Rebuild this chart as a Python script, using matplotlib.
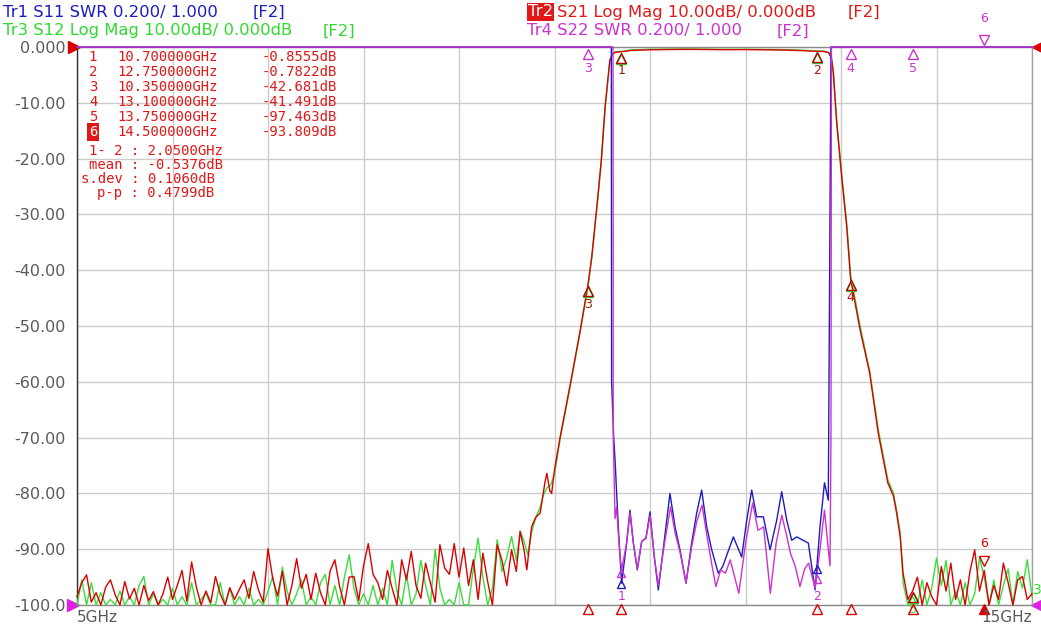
import numpy as np
import matplotlib
matplotlib.use("Agg")
import matplotlib.pyplot as plt
from matplotlib.transforms import offset_copy, blended_transform_factory

W, H = 1041, 625

# ---- S21 (Tr2, red) -------------------------------------------------------
s21_lo_noise = [
    -98.5, -96.0, -94.6, -99.5, -97.8, -100, -96.8, -95.5, -98.2, -100,
    -95.8, -98.9, -97.0, -100, -96.5, -99.2, -97.6, -100, -98.0, -95.0,
    -99.0, -96.5, -93.8, -99.3, -92.3, -96.8, -100, -97.5, -99.6, -94.9,
    -98.0, -100, -96.9, -99.0, -97.2, -95.5, -98.8, -94.0, -97.3, -99.5,
    -89.9, -95.3, -98.4, -94.0, -100, -96.5, -91.7, -97.0, -94.5, -99.0,
    -94.3, -97.8, -100, -93.9, -91.9, -96.7, -100, -95.0, -94.9, -99.2,
    -93.0, -89.0, -94.5, -96.0, -99.0, -93.8, -97.0, -100, -91.9, -95.5,
    -90.4, -96.5, -98.8, -92.5, -96.0, -99.5, -89.2, -93.4, -94.5, -89.0,
    -95.0, -89.8, -96.5, -91.9, -99.0, -90.7, -95.8, -100, -89.2, -92.0,
    -96.5, -90.1, -94.0]
s21_band_f = [
    9.64, 9.68, 9.71, 9.76, 9.80, 9.85, 9.90, 9.92, 9.95, 9.97,
    10.00, 10.06, 10.16, 10.27, 10.35, 10.39, 10.45, 10.49, 10.53, 10.58,
    10.61, 10.63, 10.66, 10.70, 10.80, 10.90, 11.00, 11.20, 11.40, 11.60,
    11.80, 12.00, 12.20, 12.40, 12.60, 12.75, 12.82, 12.87, 12.90, 12.92,
    12.955, 13.01, 13.06, 13.10, 13.20, 13.30, 13.39, 13.49, 13.55, 13.58,
    13.62]
s21_band_v = [
    -86.8, -90.0, -93.7, -86.0, -84.4, -83.5, -78.0, -76.4, -79.5, -80.0,
    -75.8, -69.8, -60.9, -50.7, -42.7, -37.6, -27.5, -20.3, -10.7, -2.3,
    -1.3, -1.0, -0.9, -0.86, -0.62, -0.55, -0.50, -0.45, -0.42, -0.45,
    -0.48, -0.47, -0.50, -0.55, -0.65, -0.78, -0.80, -1.0, -2.0, -4.7,
    -13.6, -23.8, -32.2, -41.5, -50.7, -58.4, -69.2, -78.1, -80.5, -83.3,
    -87.8]
s21_hi_noise = [
    -94.3, -99.0, -97.5, -95.0, -100, -96.0, -98.5, -100, -93.1, -97.5,
    -92.5, -99.0, -95.5, -100, -94.0, -90.1, -97.5, -93.8, -100, -96.5,
    -99.0, -92.5, -96.0, -100, -95.5, -94.9, -99.0, -98.0]

# ---- S12 (Tr3, green) -----------------------------------------------------
s12_lo_noise = [
    -100, -95.5, -100, -96.0, -100, -97.8, -100, -99.0, -100, -97.5,
    -100, -98.5, -100, -96.5, -94.9, -100, -98.0, -100, -99.0, -100,
    -97.0, -100, -98.5, -100, -96.0, -100, -99.0, -97.8, -100, -100,
    -96.0, -100, -97.0, -100, -98.5, -100, -97.0, -100, -99.0, -100,
    -97.5, -94.9, -100, -93.2, -97.5, -100, -98.0, -95.5, -100, -98.5,
    -100, -96.0, -94.5, -100, -96.5, -100, -95.0, -91.0, -97.0, -100,
    -98.0, -100, -96.5, -100, -97.0, -100, -92.0, -97.5, -100, -94.5,
    -100, -98.0, -92.0, -96.5, -100, -90.0, -97.0, -100, -99.0, -100,
    -96.0, -100, -100, -93.5, -88.0, -95.0, -100, -97.0, -88.3, -94.0,
    -91.5, -87.7, -92.0]
s12_band_f = [
    9.64, 9.68, 9.72, 9.76, 9.81, 9.85, 9.88, 9.92, 9.96, 10.00,
    10.06, 10.16, 10.27, 10.35, 10.39, 10.45, 10.49, 10.53, 10.58, 10.61,
    10.63, 10.66, 10.70, 10.80, 10.90, 11.00, 11.20, 11.40, 11.60, 11.80,
    12.00, 12.20, 12.40, 12.60, 12.75, 12.82, 12.87, 12.90, 12.92, 12.955,
    13.01, 13.06, 13.10, 13.20, 13.30, 13.39, 13.49, 13.55, 13.58, 13.62]
s12_band_v = [
    -86.8, -88.5, -91.0, -87.0, -84.0, -82.5, -80.5, -79.0, -78.5, -76.5,
    -70.2, -61.3, -51.0, -43.0, -37.9, -27.8, -20.6, -10.9, -2.4, -1.2,
    -0.9, -0.8, -0.80, -0.52, -0.48, -0.40, -0.38, -0.36, -0.40, -0.42,
    -0.40, -0.44, -0.48, -0.58, -0.72, -0.76, -0.95, -1.9, -4.5, -13.2,
    -23.2, -31.5, -40.8, -50.0, -58.0, -68.5, -77.5, -80.0, -82.8, -87.0]
s12_hi_noise = [
    -96.0, -100, -98.5, -100, -95.5, -100, -97.0, -91.6, -96.5, -92.0,
    -100, -97.5, -100, -96.0, -100, -98.0, -91.5, -95.0, -100, -95.5,
    -100, -96.5, -93.5, -100, -94.0, -97.0, -91.9, -98.5]

# ---- S11 (Tr1, blue) / S22 (Tr4, magenta), SWR shown on the dB grid --------
s11_f = [5.0, 10.595, 10.598, 10.62, 10.634, 10.668, 10.703, 10.756, 10.79,
         10.825, 10.867, 10.913, 10.958, 11.0, 11.045, 11.087, 11.147, 11.209,
         11.262, 11.314, 11.377, 11.437, 11.489, 11.541, 11.594, 11.646,
         11.715, 11.761, 11.873, 11.96, 12.013, 12.065, 12.117, 12.187,
         12.257, 12.327, 12.379, 12.432, 12.484, 12.537, 12.658, 12.728,
         12.78, 12.827, 12.867, 12.895, 15.0]
s11_v = [0, 0, -60, -70, -74.0, -86.0, -96.1, -88.8, -83.0,
         -88.8, -93.7, -88.6, -88.0, -83.3, -91.4, -97.3, -88.8, -80.0,
         -86.0, -90.1, -96.1, -88.8, -83.5, -79.4, -86.0, -90.1,
         -94.3, -93.1, -87.8, -91.4, -84.8, -79.4, -84.2, -84.2,
         -90.1, -84.8, -79.7, -84.8, -88.4, -87.8, -88.9, -97.3,
         -86.0, -78.1, -81.2, 0, 0]
s22_f = [5.0, 10.613, 10.615, 10.634, 10.65, 10.68, 10.703, 10.756, 10.79,
         10.825, 10.867, 10.913, 10.958, 11.0, 11.045, 11.087, 11.147, 11.215,
         11.262, 11.314, 11.377, 11.437, 11.49, 11.545, 11.60, 11.65, 11.69,
         11.74, 11.79, 11.84, 11.93, 12.00, 12.075, 12.13, 12.19, 12.26,
         12.32, 12.38, 12.43, 12.47, 12.52, 12.57, 12.62, 12.66, 12.73,
         12.78, 12.827, 12.867, 12.885, 12.895, 12.90, 15.0]
s22_v = [0, 0, -70, -84.5, -82.5, -90.0, -93.7, -88.8, -83.5,
         -88.8, -93.5, -88.6, -88.0, -84.0, -91.4, -96.5, -89.5, -82.4,
         -87.0, -90.5, -96.0, -89.5, -85.0, -82.1, -88.0, -93.0, -96.7,
         -93.7, -94.3, -91.9, -97.9, -89.0, -81.7, -86.6, -86.0, -97.9,
         -89.0, -83.9, -87.5, -90.7, -93.0, -96.7, -93.5, -92.5, -97.0,
         -90.0, -83.0, -90.0, -93.0, -70.0, 0, 0]

# ---- markers ---------------------------------------------------------------
mk_num = ["1", "2", "3", "4", "5", "6"]
mk_freq = [10.70, 12.75, 10.35, 13.10, 13.75, 14.50]
mk_val = [-0.8555, -0.7822, -42.681, -41.491, -97.463, -93.809]
mk_freq_txt = ["10.700000GHz", "12.750000GHz", "10.350000GHz",
               "13.100000GHz", "13.750000GHz", "14.500000GHz"]
mk_val_txt = ["-0.8555dB", "-0.7822dB", "-42.681dB",
              "-41.491dB", "-97.463dB", "-93.809dB"]
stats_txt = ["1- 2 : 2.0500GHz", "mean : -0.5376dB",
             "s.dev : 0.1060dB", "p-p : 0.4799dB"]
ytick_vals = list(range(-100, 1, 10))
ytick_txt = ["-100.0", "-90.00", "-80.00", "-70.00", "-60.00", "-50.00",
             "-40.00", "-30.00", "-20.00", "-10.00", "0.000"]

C_BLUE = "#1c1cc0"
C_RED = "#d80000"
C_GREEN = "#3cdc3c"
C_MAG = "#cc33cc"
C_TXT = "#e01818"
C_GREY = "#5a5a5a"

s21_f = np.concatenate([np.linspace(5.0, 9.6, len(s21_lo_noise)), s21_band_f,
                        np.linspace(13.65, 15.0, len(s21_hi_noise))])
s21_v = np.concatenate([s21_lo_noise, s21_band_v, s21_hi_noise])
s12_f = np.concatenate([np.linspace(5.0, 9.6, len(s12_lo_noise)), s12_band_f,
                        np.linspace(13.65, 15.0, len(s12_hi_noise))])
s12_v = np.concatenate([s12_lo_noise, s12_band_v, s12_hi_noise])

fig = plt.figure(figsize=(W / 100, H / 100), dpi=100)
fig.patch.set_facecolor("white")
ax = fig.add_axes([77 / W, 1 - 605 / H, 955 / W, 558 / H])
ax.set_xlim(5, 15)
ax.set_ylim(-100, 0)
ax.set_xticks(np.arange(5, 16, 1))
ax.set_xticklabels([])
ax.set_yticks(ytick_vals)
ax.set_yticklabels(ytick_txt, color=C_GREY, fontsize=11.5)
ax.tick_params(length=0, pad=8)
ax.grid(True, color="#cccccc", lw=1)
ax.set_axisbelow(True)
for side, col in [("left", "#303030"), ("bottom", "#8a8a8a"),
                  ("top", "#8a8a8a"), ("right", "#a0a0a0")]:
    ax.spines[side].set_color(col)
    ax.spines[side].set_linewidth(1)

ax.plot(s12_f, s12_v, color=C_GREEN, lw=1, clip_on=False, zorder=3)
ax.plot(s21_f, s21_v, color=C_RED, lw=1, clip_on=False, zorder=4)
ax.plot(s11_f, s11_v, color=C_BLUE, lw=1, clip_on=False, zorder=5)
ax.plot(s22_f, s22_v, color=C_MAG, lw=1, clip_on=False, zorder=6)


def off(dy):
    return offset_copy(ax.transData, fig=fig, x=0, y=dy, units="dots")


# trace markers on S21 / S12
for n, f, v in zip(mk_num, mk_freq, mk_val):
    if n == "6":
        ax.plot(f, v, marker="v", ms=7, mfc="none", mec=C_RED, mew=1,
                transform=off(9), clip_on=False, zorder=7)
        ax.text(f, v, n, color=C_RED, fontsize=9, ha="center", va="center",
                transform=off(27), zorder=7)
    else:
        ax.plot(f, v, marker="^", ms=7, mfc="none", mec=C_GREEN, mew=1,
                transform=off(-7), clip_on=False, zorder=7)
        ax.plot(f, v, marker="^", ms=7, mfc="none", mec="#b00000", mew=1,
                transform=off(-6), clip_on=False, zorder=7)
        lab_col = "#8a2000" if n in ("1", "3") else "#c01010"
        if n == "5":
            lab_col = C_GREEN
        ax.text(f, v, n, color=lab_col, fontsize=9, ha="center", va="center",
                transform=off(-19), zorder=7, clip_on=False)

# Tr4 markers clipped at the top line
for n in ["3", "4", "5"]:
    f = mk_freq[mk_num.index(n)]
    ax.plot(f, 0, marker="^", ms=7, mfc="none", mec=C_MAG, mew=1,
            transform=off(-7), clip_on=False, zorder=7)
    ax.text(f, 0, n, color=C_MAG, fontsize=9, ha="center", va="center",
            transform=off(-21), zorder=7)
ax.plot(14.5, 0, marker="v", ms=7, mfc="none", mec=C_MAG, mew=1,
        transform=off(7), clip_on=False, zorder=7)
ax.text(14.5, 0, "6", color=C_MAG, fontsize=9, ha="center", va="center",
        transform=off(28), zorder=7)

# Tr1 / Tr4 markers 1, 2 in the passband
for n in ["1", "2"]:
    f = mk_freq[mk_num.index(n)]
    vb = np.interp(f, s11_f, s11_v)
    vm = np.interp(f, s22_f, s22_v)
    ax.plot(f, vb, marker="^", ms=6, mfc="none", mec=C_BLUE, mew=1,
            transform=off(-6), clip_on=False, zorder=7)
    ax.plot(f, vm, marker="^", ms=6, mfc="none", mec=C_MAG, mew=1,
            transform=off(-6), clip_on=False, zorder=7)
    ax.text(f, -98.5, n, color=C_MAG, fontsize=9, ha="center", va="center",
            zorder=7)

# stimulus markers under the x axis
bt = blended_transform_factory(ax.transData, ax.transAxes)
for n, f in zip(mk_num, mk_freq):
    tr = offset_copy(bt, fig=fig, x=0, y=-4, units="dots")
    filled = n == "6"
    ax.plot(f, 0, marker="^", ms=7, mfc=C_RED if filled else "none",
            mec=C_RED, mew=1, transform=tr, clip_on=False, zorder=7)

# reference-position arrows at the frame edges
ax.plot(0, 1, marker=">", ms=8, color=C_RED, transform=offset_copy(
    ax.transAxes, fig=fig, x=-3, y=0, units="dots"), clip_on=False)
ax.plot(0, 0, marker=">", ms=8, color="#e020e0", transform=offset_copy(
    ax.transAxes, fig=fig, x=-4, y=0, units="dots"), clip_on=False)
ax.plot(1, 0, marker="<", ms=8, color="#e020e0", transform=offset_copy(
    ax.transAxes, fig=fig, x=5, y=0, units="dots"), clip_on=False)
ax.plot(1, 1, marker="<", ms=7, color=C_RED, transform=offset_copy(
    ax.transAxes, fig=fig, x=5, y=0, units="dots"), clip_on=False)


def px(x, y):
    return x / W, 1 - y / H


# header
fs_h = 11.8
fig.text(*px(3, 12), "Tr1 S11 SWR 0.200/ 1.000", color=C_BLUE, fontsize=fs_h,
         va="center")
fig.text(*px(253, 12), "[F2]", color=C_BLUE, fontsize=fs_h, va="center")
fig.text(*px(3, 31), "Tr3 S12 Log Mag 10.00dB/ 0.000dB", color="#30d830",
         fontsize=fs_h, va="center")
fig.text(*px(323, 31), "[F2]", color="#30d830", fontsize=fs_h, va="center")
fig.text(*px(528, 12), "Tr2", color="white", fontsize=fs_h, va="center",
         bbox=dict(facecolor=C_TXT, edgecolor="none", pad=1))
fig.text(*px(557, 12), "S21 Log Mag 10.00dB/ 0.000dB", color=C_TXT,
         fontsize=fs_h, va="center")
fig.text(*px(848, 12), "[F2]", color=C_TXT, fontsize=fs_h, va="center")
fig.text(*px(527, 31), "Tr4 S22 SWR 0.200/ 1.000", color=C_MAG,
         fontsize=fs_h, va="center")
fig.text(*px(777, 31), "[F2]", color=C_MAG, fontsize=fs_h, va="center")

# x labels
fig.text(*px(77, 618), "5GHz", color=C_GREY, fontsize=11, va="center",
         ha="left")
fig.text(*px(1032, 618), "15GHz", color=C_GREY, fontsize=11, va="center",
         ha="right")
fig.text(*px(1037, 590), "3", color="#30d830", fontsize=10, va="center",
         ha="center")

# marker table (fixed-pitch readout)
fs_t = 10
mono = "DejaVu Sans Mono"
for i, (n, ft, vt) in enumerate(zip(mk_num, mk_freq_txt, mk_val_txt)):
    y = 57 + 15 * i
    if n == "6":
        fig.text(*px(93, y), n, color="white", fontsize=fs_t, ha="center",
                 va="center", family=mono,
                 bbox=dict(facecolor=C_TXT, edgecolor="none",
                           boxstyle="square,pad=0.12"))
    else:
        fig.text(*px(93, y), n, color=C_TXT, fontsize=fs_t, ha="center",
                 va="center", family=mono)
    fig.text(*px(117, y), ft, color=C_TXT, fontsize=fs_t, va="center",
             family=mono)
    fig.text(*px(337, y), vt, color=C_TXT, fontsize=fs_t, va="center",
             ha="right", family=mono)
for s, x, y in zip(stats_txt, [89, 89, 81, 97], [151, 165, 179, 193]):
    fig.text(*px(x, y), s, color=C_TXT, fontsize=fs_t, va="center",
             family=mono)

fig.savefig("out.png", dpi=100, facecolor="white")
